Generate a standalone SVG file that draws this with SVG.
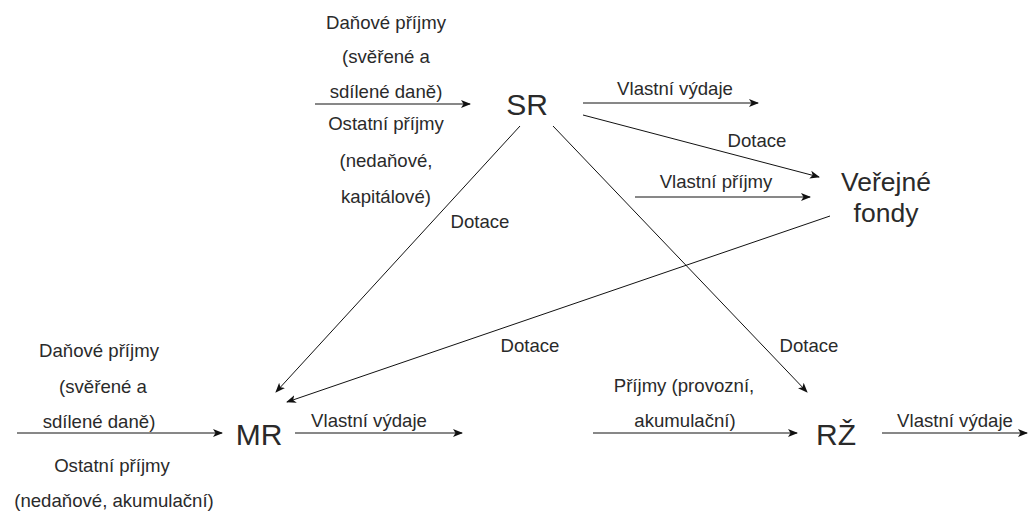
<svg xmlns="http://www.w3.org/2000/svg" width="1028" height="515" viewBox="0 0 1028 515">
<style>
text{font-family:"Liberation Sans",Arial,sans-serif;fill:#2a2a2a;text-anchor:middle}
.l{font-size:18.6px}
.n{font-size:30px}
.v{font-size:26.5px}
.c{stroke:#111;stroke-width:1;fill:none;marker-end:url(#a)}
</style>
<defs>
<marker id="a" viewBox="0 0 10 10" refX="9" refY="5" markerWidth="10" markerHeight="10" markerUnits="userSpaceOnUse" orient="auto">
<path d="M0,1 L10,5 L0,9 L2.5,5 Z" fill="#111"/>
</marker>
</defs>
<rect width="1028" height="515" fill="#fff"/>
<g id="connectors">
<line class="c" x1="315" y1="104" x2="470" y2="104"/>
<line class="c" x1="583" y1="103" x2="758" y2="103"/>
<line class="c" x1="583" y1="115" x2="819" y2="177"/>
<line class="c" x1="635" y1="197" x2="810" y2="197"/>
<line class="c" x1="830" y1="216" x2="287" y2="402"/>
<line class="c" x1="520" y1="126" x2="276" y2="392"/>
<line class="c" x1="553" y1="126" x2="807" y2="392"/>
<line class="c" x1="17" y1="433" x2="222" y2="433"/>
<line class="c" x1="295" y1="433" x2="462" y2="433"/>
<line class="c" x1="593" y1="433" x2="797" y2="433"/>
<line class="c" x1="882" y1="433" x2="1027" y2="433"/>
</g>
<g id="labels">
<text class="l" x="386" y="29">Daňové příjmy</text>
<text class="l" x="386" y="63">(svěřené a</text>
<text class="l" x="386" y="98">sdílené daně)</text>
<text class="l" x="386" y="130">Ostatní příjmy</text>
<text class="l" x="386" y="167">(nedaňové,</text>
<text class="l" x="386" y="203">kapitálové)</text>
<text class="l" x="675" y="95">Vlastní výdaje</text>
<text class="l" x="757" y="147">Dotace</text>
<text class="l" x="716" y="188">Vlastní příjmy</text>
<text class="l" x="480" y="228">Dotace</text>
<text class="l" x="530" y="352">Dotace</text>
<text class="l" x="809" y="352">Dotace</text>
<text class="l" x="99" y="357">Daňové příjmy</text>
<text class="l" x="103" y="393">(svěřené a</text>
<text class="l" x="99" y="428">sdílené daně)</text>
<text class="l" x="112" y="472">Ostatní příjmy</text>
<text class="l" x="114" y="507">(nedaňové, akumulační)</text>
<text class="l" x="369" y="427">Vlastní výdaje</text>
<text class="l" x="684" y="392">Příjmy (provozní,</text>
<text class="l" x="685" y="427">akumulační)</text>
<text class="l" x="955" y="427">Vlastní výdaje</text>
</g>
<g id="SR"><text class="n" x="527" y="115">SR</text></g>
<g id="VF"><text class="v" x="886" y="191">Veřejné</text><text class="v" x="886" y="222">fondy</text></g>
<g id="MR"><text class="n" x="259" y="445">MR</text></g>
<g id="RZ"><text class="n" x="836" y="445">RŽ</text></g>
</svg>
